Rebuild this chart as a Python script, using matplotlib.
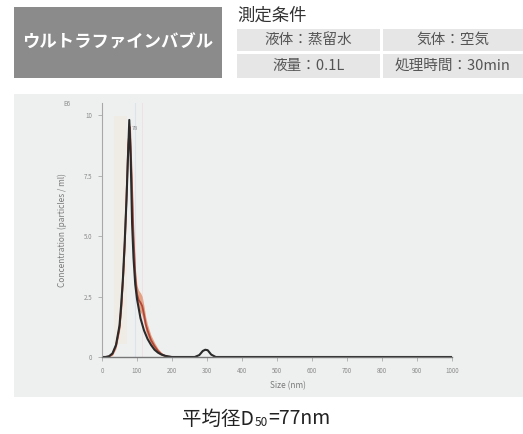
import matplotlib
matplotlib.use("Agg")
import matplotlib.pyplot as plt
from matplotlib.patches import Rectangle
import numpy as np

plt.rcParams['font.family'] = ['Noto Sans CJK JP', 'DejaVu Sans']

# ---- data -------------------------------------------------------------
size_fit = [0, 10, 20, 30, 40, 50, 55, 60, 65, 70, 75, 78, 82, 86, 90, 95,
            100, 110, 120, 130, 140, 150, 160, 170, 180, 190, 200, 265, 278,
            288, 295, 302, 312, 325, 1000]
conc_fit = [0, 0, 0.03, 0.15, 0.5, 1.3, 2.2, 3.3, 4.8, 6.5, 8.6, 9.8, 8.2,
            5.5, 4.1, 3.0, 2.4, 1.6, 1.1, 0.75, 0.5, 0.3, 0.18, 0.1, 0.05,
            0.02, 0, 0, 0.08, 0.25, 0.3, 0.28, 0.1, 0, 0]

size_meas = [0, 10, 20, 30, 40, 50, 55, 60, 65, 70, 75, 80, 85, 90, 95, 100,
             105, 110, 115, 120, 125, 130, 135, 140, 150, 160, 170, 180, 190,
             200]
conc_meas = [0, 0, 0.02, 0.12, 0.45, 1.2, 2.0, 3.2, 4.6, 6.6, 8.8, 9.5, 7.4,
             5.0, 3.4, 2.6, 2.35, 2.25, 2.1, 1.75, 1.35, 1.1, 0.9, 0.7, 0.45,
             0.25, 0.12, 0.05, 0.02, 0]
err_meas = [0, 0, 0.01, 0.05, 0.1, 0.15, 0.2, 0.2, 0.2, 0.2, 0.2, 0.2, 0.2,
            0.25, 0.3, 0.35, 0.4, 0.4, 0.4, 0.35, 0.3, 0.25, 0.22, 0.2, 0.15,
            0.1, 0.06, 0.03, 0.01, 0]

x_ticks = [0, 100, 200, 300, 400, 500, 600, 700, 800, 900, 1000]
y_ticks = [0, 2.5, 5.0, 7.5, 10]
y_tick_labels = ['0', '2.5', '5.0', '7.5', '10']

title_main = 'ウルトラファインバブル'
cond_title = '測定条件'
cond_cells = [['液体：蒸留水', '気体：空気'],
              ['液量：0.1L', '処理時間：30min']]

W, H = 523, 434


def fx(x):
    return x / W


def fy(y):
    return 1 - y / H


def box(x0, y0, x1, y1, color):
    fig.patches.append(Rectangle((fx(x0), fy(y1)), fx(x1) - fx(x0),
                                 fy(y0) - fy(y1), transform=fig.transFigure,
                                 facecolor=color, edgecolor='none',
                                 zorder=-10))


fig = plt.figure(figsize=(W / 100, H / 100), dpi=100)
fig.patch.set_facecolor('white')

# ---- header -----------------------------------------------------------
box(14, 7, 222, 78, '#8b8b8b')
fig.text(fx(118), fy(43), title_main, color='white', fontsize=12.5,
         fontweight='bold', ha='center', va='center')

fig.text(fx(237), fy(16), cond_title, color='#333333', fontsize=12.5,
         ha='left', va='center')

col_x = [(237, 380), (383, 523)]
row_y = [(29, 51), (54, 78)]
for r, (y0, y1) in enumerate(row_y):
    for c, (x0, x1) in enumerate(col_x):
        box(x0, y0, x1, y1, '#e6e6e6')
        fig.text(fx((x0 + x1) / 2), fy((y0 + y1) / 2), cond_cells[r][c],
                 color='#555555', fontsize=10.5, ha='center', va='center')

# ---- chart panel ------------------------------------------------------
box(14, 94, 523, 397, '#eef0ef')

ax = fig.add_axes([fx(102), fy(357), fx(452) - fx(102), fy(103) - fy(357)])
ax.set_facecolor('none')
ax.set_zorder(2)
ax.set_xlim(0, 1000)
ax.set_ylim(0, 10.5)

# faint replicate traces
ax.axvspan(35, 70, ymin=0.05, ymax=0.95, color='#f6d9b8', alpha=0.15, lw=0)
ax.axvline(95, color='#a9cbe6', lw=0.8, alpha=0.3)
ax.axvline(113, color='#f0b8c8', lw=0.8, alpha=0.25)

sm = np.array(size_meas)
cm = np.array(conc_meas)
em = np.array(err_meas)
ax.fill_between(sm, cm - em, cm + em, color='#d8642a', alpha=0.55, lw=0)
ax.plot(sm, cm, color='#b3473a', lw=1.3)
ax.plot(size_fit, conc_fit, color='#2a2a2a', lw=1.5)

ax.text(84, 9.4, '78', fontsize=4, color='#888888')

for s in ['top', 'right']:
    ax.spines[s].set_visible(False)
ax.spines['left'].set_color('#a8a8a8')
ax.spines['left'].set_linewidth(0.8)
ax.spines['bottom'].set_color('#777777')
ax.spines['bottom'].set_linewidth(1.0)

ax.set_xticks(x_ticks)
ax.set_xticklabels([str(v) for v in x_ticks])
ax.set_yticks(y_ticks)
ax.set_yticklabels(y_tick_labels)
ax.tick_params(axis='both', colors='#aaaaaa', labelcolor='#8a8a8a',
               labelsize=4.5, length=3, width=0.6, pad=4)

ax.set_xlabel('Size (nm)', fontsize=6, color='#7a7a7a', labelpad=6)
ax.xaxis.set_label_coords(0.53, -0.095)
ax.set_ylabel('Concentration (particles / ml)', fontsize=6, color='#7a7a7a',
              labelpad=12)
fig.text(fx(67), fy(104), 'E6', fontsize=4.5, color='#8a8a8a',
         ha='center', va='center')

# ---- caption with subscript ------------------------------------------
t1 = fig.text(fx(182), fy(419), '平均径D', fontsize=14, color='#222222',
              ha='left', va='center')
t2 = fig.text(0, 0, '50', fontsize=8.5, color='#222222', ha='left',
              va='baseline', transform=t1.get_transform())
fig.canvas.draw()
r = fig.canvas.get_renderer()
bb1 = t1.get_window_extent(r)
t2.set_position(((bb1.x1 + 0.5) / fig.bbox.width, (bb1.y0 + 4) / fig.bbox.height))
fig.canvas.draw()
bb2 = t2.get_window_extent(r)
fig.text((bb2.x1 + 0.5) / fig.bbox.width, fy(419), '=77nm', fontsize=14,
         color='#222222', ha='left', va='center')

fig.savefig('out.png', dpi=100)
